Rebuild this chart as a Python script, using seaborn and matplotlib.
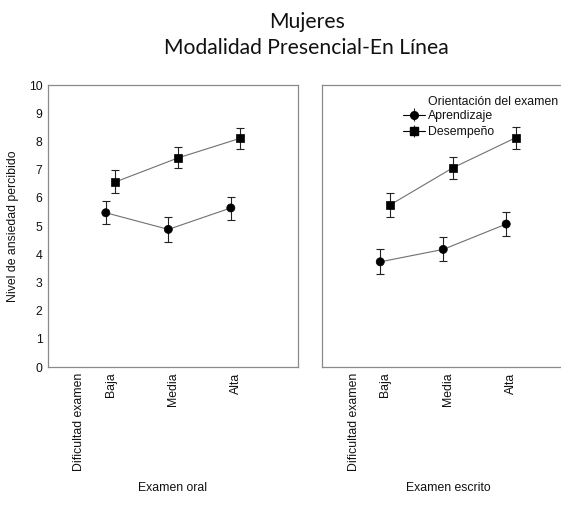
import matplotlib
matplotlib.use("Agg")
import matplotlib.pyplot as plt
import seaborn as sns
import pandas as pd
import numpy as np

# ---- data ----
difficulty = ["Baja", "Media", "Alta"]
orientation = ["Aprendizaje", "Desempeño"]
panels = ["Examen oral", "Examen escrito"]

oral_aprendizaje = [5.47, 4.88, 5.64]
oral_aprendizaje_lo = [5.07, 4.44, 5.20]
oral_aprendizaje_hi = [5.90, 5.31, 6.04]
oral_desempeno = [6.56, 7.41, 8.11]
oral_desempeno_lo = [6.16, 7.05, 7.74]
oral_desempeno_hi = [6.97, 7.80, 8.48]

escrito_aprendizaje = [3.73, 4.17, 5.07]
escrito_aprendizaje_lo = [3.30, 3.76, 4.66]
escrito_aprendizaje_hi = [4.17, 4.60, 5.51]
escrito_desempeno = [5.74, 7.06, 8.13]
escrito_desempeno_lo = [5.33, 6.66, 7.74]
escrito_desempeno_hi = [6.18, 7.46, 8.50]

axis_cat_label = "Dificultad examen"
y_label = "Nivel de ansiedad percibido"
legend_title = "Orientación del examen"
title = "Mujeres\nModalidad Presencial-En Línea"
y_ticks = list(range(0, 11))

data = {
    "Examen oral": {
        "Aprendizaje": (oral_aprendizaje, oral_aprendizaje_lo, oral_aprendizaje_hi),
        "Desempeño": (oral_desempeno, oral_desempeno_lo, oral_desempeno_hi),
    },
    "Examen escrito": {
        "Aprendizaje": (escrito_aprendizaje, escrito_aprendizaje_lo, escrito_aprendizaje_hi),
        "Desempeño": (escrito_desempeno, escrito_desempeno_lo, escrito_desempeno_hi),
    },
}

sns.set_theme(style="white")
plt.rcParams["font.family"] = ["Liberation Sans", "DejaVu Sans"]
plt.rcParams["text.color"] = "#111111"
plt.rcParams["xtick.color"] = "#111111"
plt.rcParams["ytick.color"] = "#111111"
plt.rcParams["axes.labelcolor"] = "#111111"

FS = 8.8
fig = plt.figure(figsize=(5.61, 5.13), dpi=100)
ax_positions = [[0.0856, 0.2846, 0.4456, 0.5497], [0.574, 0.2846, 0.4490, 0.5497]]
markers = {"Aprendizaje": "o", "Desempeño": "s"}
offsets = {"Aprendizaje": -0.075, "Desempeño": 0.075}

cat_pos = np.arange(1, len(difficulty) + 1)

for i, panel in enumerate(panels):
    ax = fig.add_axes(ax_positions[i])
    rows = []
    for ori in orientation:
        m, lo, hi = data[panel][ori]
        for j, d in enumerate(difficulty):
            rows.append({"x": cat_pos[j] + offsets[ori], "y": m[j], "lo": lo[j], "hi": hi[j],
                         "ori": ori})
    df = pd.DataFrame(rows)
    sns.lineplot(data=df, x="x", y="y", units="ori", estimator=None, color="#707070",
                 linewidth=0.8, ax=ax, legend=False, sort=True)
    for ori in orientation:
        sub = df[df["ori"] == ori]
        ax.errorbar(sub["x"], sub["y"], yerr=[sub["y"] - sub["lo"], sub["hi"] - sub["y"]],
                    fmt="none", ecolor="#222222", elinewidth=0.8, capsize=2.6, capthick=0.8)
    sns.scatterplot(data=df, x="x", y="y", style="ori", markers=markers,
                    style_order=orientation, color="black", s=34, edgecolor="black",
                    linewidth=0.5, ax=ax, legend=False, zorder=5)

    ax.set_xlim(0, 4)
    ax.set_ylim(0, 10)
    ax.set_xticks([0.5] + list(cat_pos))
    ax.set_xticklabels([axis_cat_label] + difficulty, rotation=90, fontsize=FS)
    ax.set_yticks(y_ticks)
    if i == 0:
        ax.set_yticklabels([str(t) for t in y_ticks], fontsize=FS)
        ax.set_ylabel(y_label, fontsize=FS, labelpad=7)
    else:
        ax.set_yticklabels([])
        ax.set_ylabel("")
    ax.set_xlabel(panel, fontsize=FS, labelpad=8)
    ax.tick_params(axis="both", length=0, pad=4)
    for s in ax.spines.values():
        s.set_color("#8a8a8a")
        s.set_linewidth(0.9)

    if i == 1:
        handles = []
        for ori in orientation:
            h = ax.errorbar([], [], yerr=[[], []], fmt=markers[ori], color="black",
                            linestyle="-", linewidth=0.8, markersize=5.5, capsize=2.6,
                            ecolor="#222222", label=ori)
            handles.append(h)
        leg = ax.legend(handles=handles, labels=orientation,
                        loc="upper left", bbox_to_anchor=(0.32, 0.912), frameon=False,
                        fontsize=FS, handlelength=1.8, handletextpad=0.3,
                        labelspacing=0.38, borderpad=0.0, borderaxespad=0.0)
        ax.text(0.42, 0.94, legend_title, transform=ax.transAxes, fontsize=FS,
                ha="left", va="center", clip_on=False)

fig.suptitle(title, x=0.547, y=0.976, fontsize=15.2, family=["Lato", "DejaVu Sans"],
             linespacing=1.35)

fig.savefig("out.png", dpi=100)
